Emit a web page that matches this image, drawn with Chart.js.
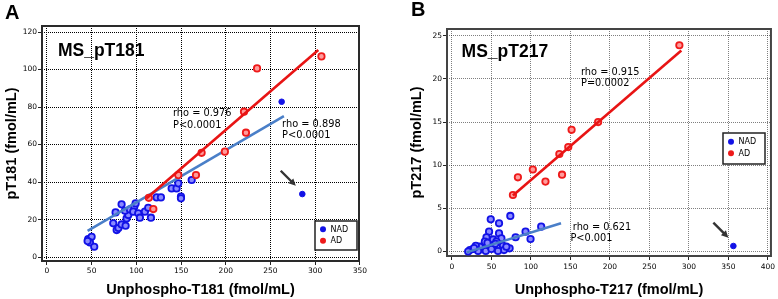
<!DOCTYPE html>
<html><head><meta charset="utf-8">
<script src="https://cdn.jsdelivr.net/npm/chart.js@4.4.0/dist/chart.umd.min.js"></script>
<style>
html,body{margin:0;padding:0;background:#fff;}
#wrap{position:relative;width:778px;height:299px;overflow:hidden;background:#fff;}
.pane{position:absolute;top:0;width:389px;height:299px;}
#pa{left:0}#pb{left:389px}
canvas{display:block}
</style></head><body>
<div id="wrap">
<div class="pane" id="pa"><canvas id="ca" width="389" height="299"></canvas></div>
<div class="pane" id="pb"><canvas id="cb" width="389" height="299"></canvas></div>
</div>
<script>
// ---- tick labels ----
const xTicksA = [0, 50, 100, 150, 200, 250, 300, 350];
const yTicksA = [0, 20, 40, 60, 80, 100, 120];
const xTicksB = [0, 50, 100, 150, 200, 250, 300, 350, 400];
const yTicksB = [0, 5, 10, 15, 20, 25];

// ---- panel A: MS_pT181 ----
const nadAX = [46.2, 50, 48.1, 52.9, 45.5, 74.2, 78, 80, 83.5, 88, 83.5, 76.8, 89.1, 91, 87.3, 92.8, 97.7, 99.2, 96.5, 102.1, 104, 109.6, 113.3, 116.3, 122.7, 127.5, 139.5, 145, 146.9, 149.9, 149.9, 161.9];
const nadAY = [9.6, 10.8, 7.8, 5.5, 8.5, 18, 14.4, 15.5, 17.4, 16.7, 28.1, 23.8, 20.6, 22.4, 24.7, 25.4, 26.8, 28.6, 24.2, 23.3, 21, 24.2, 26.3, 21, 31.8, 31.8, 36.6, 36.6, 39.3, 32.2, 31.3, 41.1];
const nadOutAX = [262.5, 285.6];
const nadOutAY = [82.8, 33.6];
const adAX = [114, 119, 146.9, 166.7, 173, 199, 220.4, 222.6, 235, 307];
const adAY = [31.6, 25.6, 43.7, 43.7, 55.6, 56.2, 77.5, 66.3, 100.6, 107];
const fitNadAX = [45.5, 265];
const fitNadAY = [13.9, 75.2];
const fitAdAX = [111.5, 303.5];
const fitAdAY = [31.3, 110.4];

// ---- panel B: MS_pT217 ----
const nadBX = [49.1, 59.6, 73.9, 47, 59.6, 43.7, 52, 62.6, 80.6, 93.2, 99.5, 113, 56.3, 64.6, 73, 65.9, 52, 45.7, 39.4, 35.3, 30.2, 26.8, 22.7, 20.5, 33.1, 42.8, 50, 58.3, 41.6, 68.9, 45, 55, 28];
const nadBY = [3.73, 3.27, 4.12, 2.3, 2.1, 1.65, 1.4, 1.53, 1.65, 2.3, 1.45, 2.88, 1.14, 0.67, 0.37, 0.17, 0.56, 0.75, 0.37, 0.56, 0.67, 0.29, 0.17, 0, 0.06, 0.06, 0.29, 0.06, 1.14, 0.56, 1.0, 0.9, 0.4];
const nadOutBX = [356.4];
const nadOutBY = [0.64];
const adBX = [77.2, 83.5, 102.4, 118.4, 139.4, 136, 147.3, 151.5, 185.1, 288];
const adBY = [6.55, 8.6, 9.5, 8.1, 8.9, 11.3, 12.1, 14.1, 15, 23.9];
const fitNadBX = [18.5, 138.1];
const fitNadBY = [-0.1, 3.27];
const fitAdBX = [77.2, 290.5];
const fitAdBY = [6.5, 23.3];

const BLUE = '#1212e6', BLUE_IN = '#8a8aff';
const RED = '#ee1a1a', RED_IN = '#ff9c9c';
const LINE_BLUE = '#4a7fc8', LINE_RED = '#e81414';
const TICK_FONT = {family: '"DejaVu Sans", Verdana, sans-serif', size: 7.5};
const TITLE_FONT = {family: '"Liberation Sans", Arial, sans-serif', size: 14.5, weight: 'bold'};
const ANNO_FONT = '9.8px "DejaVu Sans", Verdana, sans-serif';
const HEAD_FONT = 'bold 17.5px "Liberation Sans", Arial, sans-serif';

function pts(xs, ys) { return xs.map((v, i) => ({x: v, y: ys[i]})); }

function annotPlugin(o) {
  return {
    id: 'annot',
    beforeDatasetsDraw(chart) {
      const {ctx, chartArea: a} = chart;
      ctx.save();
      ctx.strokeStyle = o.frameColor; ctx.lineWidth = 2;
      ctx.strokeRect(a.left, a.top, a.right - a.left, a.bottom - a.top);
      ctx.restore();
    },
    afterDatasetsDraw(chart) {
      const {ctx, scales: {x, y}} = chart;
      ctx.save();
      ctx.fillStyle = '#000';
      ctx.textBaseline = 'middle'; ctx.textAlign = 'left';
      ctx.font = 'bold 20px "Liberation Sans", Arial, sans-serif';
      ctx.fillText(o.letter, o.letterPos[0], o.letterPos[1]);
      o.texts.forEach(t => {
        ctx.font = t.font;
        ctx.fillText(t.t, x.getPixelForValue(t.x), y.getPixelForValue(t.y));
      });
      const ox = x.getPixelForValue(o.arrowTo[0]), oy = y.getPixelForValue(o.arrowTo[1]);
      const x1 = ox + o.arrowOff[0], y1 = oy + o.arrowOff[1];
      const x2 = ox + o.arrowOff[2], y2 = oy + o.arrowOff[3];
      const ang = Math.atan2(y2 - y1, x2 - x1);
      ctx.strokeStyle = '#333'; ctx.fillStyle = '#333'; ctx.lineWidth = 2.4;
      ctx.beginPath(); ctx.moveTo(x1, y1);
      ctx.lineTo(x2 - 4 * Math.cos(ang), y2 - 4 * Math.sin(ang)); ctx.stroke();
      ctx.beginPath();
      ctx.moveTo(x2, y2);
      ctx.lineTo(x2 - 7 * Math.cos(ang) + 3.5 * Math.sin(ang), y2 - 7 * Math.sin(ang) - 3.5 * Math.cos(ang));
      ctx.lineTo(x2 - 7 * Math.cos(ang) - 3.5 * Math.sin(ang), y2 - 7 * Math.sin(ang) + 3.5 * Math.cos(ang));
      ctx.closePath(); ctx.fill();
      const L = o.legend;
      ctx.fillStyle = '#fff'; ctx.fillRect(L.x, L.y, L.w, L.h);
      ctx.strokeStyle = '#222'; ctx.lineWidth = 1.5; ctx.strokeRect(L.x, L.y, L.w, L.h);
      const items = [{label: chart.data.datasets[0].label, c: BLUE}, {label: chart.data.datasets[2].label, c: RED}];
      items.forEach((it, i) => {
        const cy = L.y + L.r0 + i * L.dr;
        ctx.fillStyle = it.c; ctx.beginPath(); ctx.arc(L.x + 8, cy, 3, 0, Math.PI * 2); ctx.fill();
        ctx.fillStyle = '#000'; ctx.font = '8px "DejaVu Sans", Verdana, sans-serif';
        ctx.fillText(it.label, L.x + 15.5, cy + 0.5);
      });
      ctx.restore();
    }
  };
}

function makeChart(id, c) {
  const scatterDs = (label, xs, ys, bc, bg, r, bw, order) => ({
    type: 'scatter', label, data: pts(xs, ys), borderColor: bc, backgroundColor: bg,
    pointRadius: r, pointBorderWidth: bw, pointHoverRadius: r, order
  });
  const lineDs = (label, xs, ys, col, order) => ({
    type: 'line', label, data: pts(xs, ys), borderColor: col, borderWidth: 2.6,
    pointRadius: 0, fill: false, showLine: true, order
  });
  return new Chart(document.getElementById(id), {
    type: 'scatter',
    data: {
      datasets: [
        scatterDs('NAD', c.nadX, c.nadY, BLUE, BLUE_IN, 3.2, 1.8, 5),
        scatterDs('NAD ', c.outX, c.outY, BLUE, BLUE, 2.8, 1, 5),
        scatterDs('AD', c.adX, c.adY, RED, RED_IN, 3.2, 1.8, 2),
        lineDs('NAD fit', c.fitNX, c.fitNY, LINE_BLUE, 3),
        lineDs('AD fit', c.fitAX, c.fitAY, LINE_RED, 1)
      ]
    },
    options: {
      responsive: false, animation: false, devicePixelRatio: 1,
      layout: {padding: c.pad},
      plugins: {legend: {display: false}, tooltip: {enabled: false}},
      scales: {
        x: {
          type: 'linear', min: c.xMin, max: c.xMax,
          afterBuildTicks: s => { s.ticks = c.xTicks.map(v => ({value: v})); },
          afterFit: s => { s.height = c.xH; },
          ticks: {font: TICK_FONT, color: '#000', padding: c.xPad, autoSkip: false, maxRotation: 0},
          grid: {color: c.gridColor, lineWidth: 1, tickLength: 4, tickColor: '#222', tickWidth: 1},
          border: {display: false, dash: [1, 1]},
          title: {display: true, text: c.xTitle, font: TITLE_FONT, color: '#000', padding: {top: 2, bottom: 0}}
        },
        y: {
          type: 'linear', min: c.yMin, max: c.yMax,
          afterBuildTicks: s => { s.ticks = c.yTicks.map(v => ({value: v})); },
          afterFit: s => { s.width = c.yW; },
          ticks: {font: TICK_FONT, color: '#000', padding: 1, autoSkip: false},
          grid: {color: c.gridColor, lineWidth: 1, tickLength: 4, tickColor: '#222', tickWidth: 1},
          border: {display: false, dash: [1, 1]},
          title: {display: true, text: c.yTitle, font: TITLE_FONT, color: '#000', padding: {top: c.yTitlePad, bottom: 0}}
        }
      }
    },
    plugins: [annotPlugin(c.annot)]
  });
}

makeChart('ca', {
  nadX: nadAX, nadY: nadAY, outX: nadOutAX, outY: nadOutAY, adX: adAX, adY: adAY,
  fitNX: fitNadAX, fitNY: fitNadAY, fitAX: fitAdAX, fitAY: fitAdAY,
  xMin: -5.5, xMax: 349, yMin: -2.1, yMax: 123.2, xTicks: xTicksA, yTicks: yTicksA,
  pad: {left: 0, top: 26, right: 30, bottom: 0}, xH: 38, yW: 42, xPad: 2, yTitlePad: 3,
  gridColor: '#000',
  xTitle: 'Unphospho-T181 (fmol/mL)', yTitle: 'pT181 (fmol/mL)',
  annot: {
    frameColor: '#2a2a2a', letter: 'A', letterPos: [5, 13],
    texts: [
      {t: 'MS_pT181', x: 12.3, y: 109.9, font: HEAD_FONT},
      {t: 'rho = 0.976', x: 141, y: 76.8, font: ANNO_FONT},
      {t: 'P<0.0001', x: 141, y: 70.4, font: ANNO_FONT},
      {t: 'rho = 0.898', x: 263, y: 70.9, font: ANNO_FONT},
      {t: 'P<0.0001', x: 263, y: 64.7, font: ANNO_FONT}
    ],
    arrowTo: [285.6, 33.6], arrowOff: [-21.6, -23.3, -6.5, -8.2],
    legend: {x: 315, y: 221, w: 42, h: 29, r0: 8.3, dr: 11.4}
  }
});

makeChart('cb', {
  nadX: nadBX, nadY: nadBY, outX: nadOutBX, outY: nadOutBY, adX: adBX, adY: adBY,
  fitNX: fitNadBX, fitNY: fitNadBY, fitAX: fitAdBX, fitAY: fitAdBY,
  xMin: -6.3, xMax: 404, yMin: -0.52, yMax: 25.78, xTicks: xTicksB, yTicks: yTicksB,
  pad: {left: 0, top: 29, right: 4, bottom: 0}, xH: 43, yW: 58, xPad: 3, yTitlePad: 19,
  gridColor: 'rgba(0,0,0,0.5)',
  xTitle: 'Unphospho-T217 (fmol/mL)', yTitle: 'pT217 (fmol/mL)',
  annot: {
    frameColor: '#444', letter: 'B', letterPos: [22, 10],
    texts: [
      {t: 'MS_pT217', x: 12.2, y: 23.1, font: HEAD_FONT},
      {t: 'rho = 0.915', x: 163.4, y: 20.8, font: ANNO_FONT},
      {t: 'P=0.0002', x: 163.4, y: 19.43, font: ANNO_FONT},
      {t: 'rho = 0.621', x: 153, y: 2.84, font: ANNO_FONT},
      {t: 'P<0.001', x: 150, y: 1.57, font: ANNO_FONT}
    ],
    arrowTo: [356.4, 0.64], arrowOff: [-20, -23.3, -5, -8.2],
    legend: {x: 334, y: 133, w: 42, h: 31, r0: 8.7, dr: 11.6}
  }
});
</script>
</body></html>
